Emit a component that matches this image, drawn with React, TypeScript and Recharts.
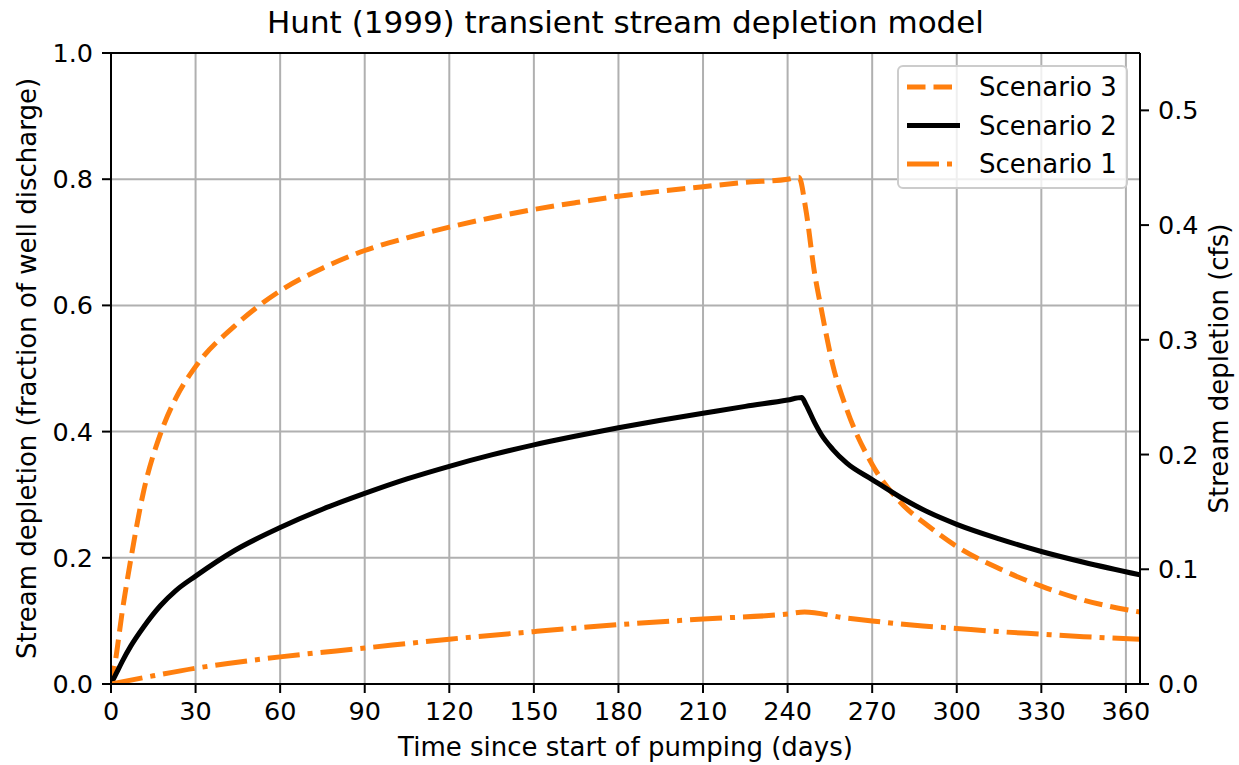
import React from 'react';
import { LineChart, Line, XAxis, YAxis, CartesianGrid, ReferenceLine, Legend } from 'recharts';

const FONT = '"DejaVu Sans", sans-serif';
const ORANGE = '#ff7f0e';

const TITLE = 'Hunt (1999) transient stream depletion model';
const X_LABEL = 'Time since start of pumping (days)';
const Y_LEFT_LABEL = 'Stream depletion (fraction of well discharge)';
const Y_RIGHT_LABEL = 'Stream depletion (cfs)';

const xTicks = [0, 30, 60, 90, 120, 150, 180, 210, 240, 270, 300, 330, 360];
const leftTicks = [0, 0.2, 0.4, 0.6, 0.8, 1.0];
const rightTicks = [0, 0.1, 0.2, 0.3, 0.4, 0.5];

// Scenario 3 (dashed orange)
const s3Days = [0, 1.5, 4, 7, 11.5, 17.5, 23, 30, 44, 60, 75, 90, 105, 120, 135, 150, 165, 180, 195, 210, 225, 240, 244, 246.5, 249.5, 252, 256, 261, 270, 280, 290, 300, 315, 330, 345, 365];
const s3Values = [0, 0.035, 0.115, 0.197, 0.304, 0.396, 0.453, 0.503, 0.568, 0.623, 0.659, 0.687, 0.707, 0.724, 0.739, 0.752, 0.763, 0.773, 0.781, 0.788, 0.795, 0.8, 0.803, 0.751, 0.653, 0.593, 0.506, 0.435, 0.348, 0.288, 0.25, 0.218, 0.183, 0.155, 0.133, 0.114];

// Scenario 2 (solid black)
const s2Days = [0, 2, 4, 7, 11.5, 17.5, 23, 30, 44, 60, 75, 90, 105, 120, 135, 150, 165, 180, 195, 210, 225, 240, 245, 246.5, 249.5, 252, 256, 261, 270, 280, 290, 300, 315, 330, 345, 365];
const s2Values = [0, 0.018, 0.036, 0.06, 0.09, 0.124, 0.148, 0.171, 0.212, 0.248, 0.277, 0.302, 0.325, 0.345, 0.363, 0.379, 0.393, 0.406, 0.418, 0.429, 0.44, 0.45, 0.454, 0.443, 0.415, 0.395, 0.372, 0.35, 0.324, 0.296, 0.272, 0.253, 0.23, 0.21, 0.193, 0.173];

// Scenario 1 (dash-dot orange)
const s1Days = [0, 15, 30, 60, 90, 120, 150, 180, 210, 240, 246, 260, 270, 285, 300, 315, 330, 345, 365];
const s1Values = [0, 0.013, 0.025, 0.043, 0.057, 0.071, 0.083, 0.094, 0.103, 0.111, 0.114, 0.105, 0.1, 0.093, 0.088, 0.083, 0.079, 0.075, 0.071];

const toSeries = (days: number[], vals: number[]) => days.map((d, i) => ({ day: d, v: vals[i] }));
const s3Data = toSeries(s3Days, s3Values);
const s2Data = toSeries(s2Days, s2Values);
const s1Data = toSeries(s1Days, s1Values);

const legendItems = [
  { name: 'Scenario 3', color: ORANGE, dash: '18.5 8' },
  { name: 'Scenario 2', color: '#000000', dash: undefined },
  { name: 'Scenario 1', color: ORANGE, dash: '32 8 5 8' },
];

const tickStyle = { fill: '#000', fontSize: 25.5, fontFamily: FONT };
const axisLineStyle = { stroke: '#000', strokeWidth: 2 };

const renderLegend = () => (
  <div
    style={{
      width: 231,
      height: 124,
      boxSizing: 'border-box',
      border: '2px solid #cccccc',
      borderRadius: 6,
      background: 'rgba(255,255,255,0.8)',
      position: 'relative',
    }}
  >
    <svg width={231} height={124} style={{ position: 'absolute', left: -2, top: -2 }}>
      {legendItems.map((it, i) => {
        const cy = 22 + i * 38.5;
        return (
          <g key={it.name}>
            <line x1={10} x2={63} y1={cy} y2={cy} stroke={it.color} strokeWidth={5} strokeDasharray={it.dash} />
            <text x={82} y={cy + 9} fontSize={26} fontFamily={FONT} fill="#000">
              {it.name}
            </text>
          </g>
        );
      })}
    </svg>
  </div>
);

export default function App() {
  return (
    <div style={{ position: 'absolute', left: 0, top: 0, width: 1239, height: 765, background: '#fff' }}>
      <LineChart width={1239} height={765} margin={{ top: 53, right: 0, bottom: 0, left: 0 }}>
        <CartesianGrid xAxisId="x" yAxisId="left" stroke="#b0b0b0" strokeWidth={2} />
        <XAxis
          xAxisId="x"
          type="number"
          dataKey="day"
          domain={[0, 365]}
          ticks={xTicks}
          allowDataOverflow
          height={81}
          tickSize={9}
          tickMargin={9}
          tick={tickStyle}
          axisLine={axisLineStyle}
          tickLine={axisLineStyle}
          label={() => (
            <text x={625.5} y={756} textAnchor="middle" fontSize={26} fontFamily={FONT} fill="#000">
              {X_LABEL}
            </text>
          )}
        />
        <YAxis
          yAxisId="left"
          type="number"
          domain={[0, 1]}
          ticks={leftTicks}
          allowDataOverflow
          width={111}
          tickSize={9}
          tickMargin={9}
          tick={tickStyle}
          tickFormatter={(v: number) => v.toFixed(1)}
          axisLine={axisLineStyle}
          tickLine={axisLineStyle}
          label={() => (
            <text
              x={36}
              y={368.5}
              transform="rotate(-90 36 368.5)"
              textAnchor="middle"
              fontSize={26}
              fontFamily={FONT}
              fill="#000"
            >
              {Y_LEFT_LABEL}
            </text>
          )}
        />
        <YAxis
          yAxisId="right"
          orientation="right"
          type="number"
          domain={[0, 0.55]}
          ticks={rightTicks}
          allowDataOverflow
          width={99}
          tickSize={9}
          tickMargin={9}
          tick={tickStyle}
          tickFormatter={(v: number) => v.toFixed(1)}
          axisLine={axisLineStyle}
          tickLine={axisLineStyle}
          label={() => (
            <text
              x={1228}
              y={368.5}
              transform="rotate(-90 1228 368.5)"
              textAnchor="middle"
              fontSize={26}
              fontFamily={FONT}
              fill="#000"
            >
              {Y_RIGHT_LABEL}
            </text>
          )}
        />
        <Line
          xAxisId="x"
          yAxisId="left"
          data={s3Data}
          dataKey="v"
          name="Scenario 3"
          type="monotone"
          stroke={ORANGE}
          strokeWidth={5}
          strokeDasharray="18.5 8"
          dot={false}
          activeDot={false}
          isAnimationActive={false}
        />
        <Line
          xAxisId="x"
          yAxisId="left"
          data={s2Data}
          dataKey="v"
          name="Scenario 2"
          type="monotone"
          stroke="#000"
          strokeWidth={5}
          dot={false}
          activeDot={false}
          isAnimationActive={false}
        />
        <Line
          xAxisId="x"
          yAxisId="left"
          data={s1Data}
          dataKey="v"
          name="Scenario 1"
          type="monotone"
          stroke={ORANGE}
          strokeWidth={5}
          strokeDasharray="32 8 5 8"
          dot={false}
          activeDot={false}
          isAnimationActive={false}
        />
        <ReferenceLine
          xAxisId="x"
          yAxisId="left"
          y={1}
          stroke="#000"
          strokeWidth={2}
          label={{ value: TITLE, position: 'top', offset: 20, fill: '#000', fontSize: 31, fontFamily: FONT }}
        />
        <Legend
          layout="vertical"
          align="center"
          verticalAlign="middle"
          content={renderLegend}
          wrapperStyle={{ left: 897, top: 65, width: 231, height: 124 }}
        />
      </LineChart>
    </div>
  );
}
